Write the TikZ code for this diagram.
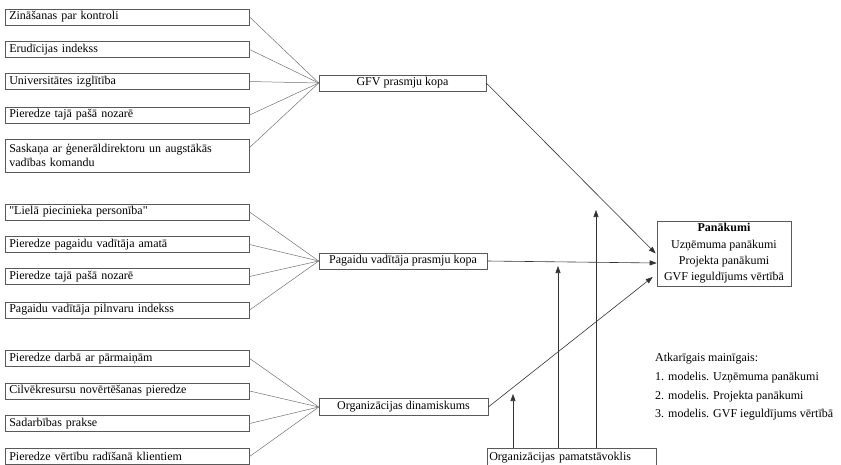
\documentclass[tikz,border=0pt]{standalone}
\usepackage{fontspec}
\setmainfont{Liberation Serif}[Ligatures=TeXOff]
\usetikzlibrary{arrows.meta,calc}
\begin{document}
\begin{tikzpicture}[x=1pt,y=-1pt,
  every node/.style={font=\fontsize{12}{14}\selectfont},
  factor/.style={draw=black!65,line width=0.6pt,anchor=west,minimum height=16pt,
    text width=236pt,inner xsep=4pt,inner ysep=0pt,align=left},
  group/.style={draw=black!65,line width=0.6pt,minimum height=16pt,inner sep=0pt,align=center},
  link/.style={draw=black!55,line width=0.5pt},
  effect/.style={draw=black!80,line width=0.6pt,-{Triangle[length=7pt,width=5pt]}}]
\useasboundingbox (0,0) rectangle (841,464);
\fill[white] (0,0) rectangle (841,464);

% GFV skills
\node[factor] (a1) at (5,17) {Zināšanas par kontroli};
\node[factor] (a2) at (5,49.5) {Erudīcijas indekss};
\node[factor] (a3) at (5,81.5) {Universitātes izglītība};
\node[factor] (a4) at (5,115) {Pieredze tajā pašā nozarē};
\node[factor,minimum height=33pt] (a5) at (5,155.5) {Saskaņa ar ģenerāldirektoru un augstākās\\vadības komandu};
\node[group,minimum width=167pt] (gfv) at (402.5,83) {GFV prasmju kopa};

% interim manager skills
\node[factor] (b1) at (5,212) {"Lielā piecinieka personība"};
\node[factor] (b2) at (5,244.5) {Pieredze pagaidu vadītāja amatā};
\node[factor] (b3) at (5,276.5) {Pieredze tajā pašā nozarē};
\node[factor] (b4) at (5,310) {Pagaidu vadītāja pilnvaru indekss};
\node[group,minimum width=168pt] (pag) at (403,261) {Pagaidu vadītāja prasmju kopa};

% organisational dynamics
\node[factor] (c1) at (5,358.5) {Pieredze darbā ar pārmaiņām};
\node[factor] (c2) at (5,391) {Cilvēkresursu novērtēšanas pieredze};
\node[factor] (c3) at (5,423.5) {Sadarbības prakse};
\node[factor] (c4) at (5,456.5) {Pieredze vērtību radīšanā klientiem};
\node[group,minimum width=169pt,minimum height=17pt] (dyn) at (403.5,407) {Organizācijas dinamiskums};

% outcome
\node[group,minimum width=134pt,minimum height=65pt,
  font=\fontsize{12}{16.3}\selectfont] (pan) at (724,253.5)
  {\textbf{Panākumi}\\Uzņēmuma panākumi\\Projekta panākumi\\GVF ieguldījums vērtībā};

% moderator
\node[draw=black!65,line width=0.6pt,anchor=north west,minimum width=169pt,minimum height=24pt,
  text width=165pt,inner xsep=2pt,inner ysep=2pt,align=left,text depth=8pt] (base) at (487,448)
  {Organizācijas pamatstāvoklis};

% legend
\node[anchor=west,align=left,inner sep=0pt,font=\fontsize{12}{18.7}\selectfont] (dep) at (655,387)
  {Atkarīgais mainīgais:\\1. modelis. Uzņēmuma panākumi\\2. modelis. Projekta panākumi\\3. modelis. GVF ieguldījums vērtībā};

% factor links
\foreach \n in {a1,a2,a3,a4} \draw[link] (\n.east) -- (gfv.west);
\draw[link] ([yshift=8pt]a5.east) -- (gfv.west);
\foreach \n in {b1,b2,b3,b4} \draw[link] (\n.east) -- (pag.west);
\foreach \n in {c1,c2,c3,c4} \draw[link] (\n.east) -- (dyn.west);

% effects on outcome
\draw[effect] (gfv.east) -- ($(pan.west)+(-1,0)$);
\draw[effect] (pag.east) -- ($(pan.west)+(0,9.5)$);
\draw[effect] (dyn.east) -- ($(pan.west)+(-4,23.5)$);

% moderating arrows
\coordinate (m1) at (513,394);
\coordinate (m2) at (558,266);
\coordinate (m3) at (596,210);
\foreach \m in {m1,m2,m3} \draw[effect] (\m |- base.north) -- (\m);
\end{tikzpicture}
\end{document}
